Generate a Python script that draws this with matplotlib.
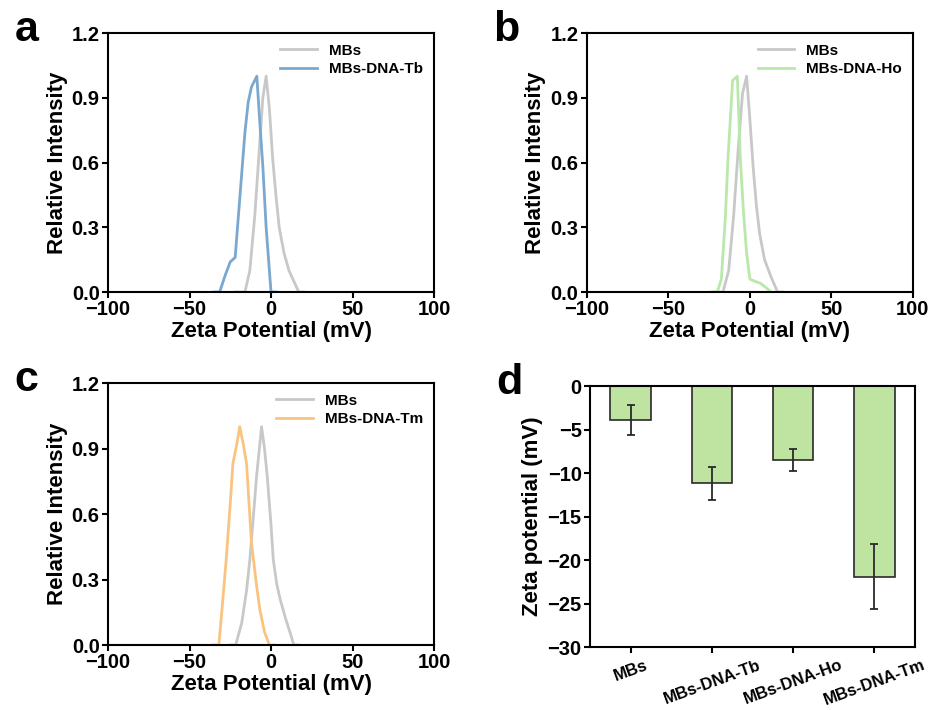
import matplotlib
matplotlib.use("Agg")
import matplotlib.pyplot as plt
import numpy as np

plt.rcParams['font.family'] = ['Liberation Sans', 'DejaVu Sans']
plt.rcParams['font.weight'] = 'bold'
plt.rcParams['axes.labelweight'] = 'bold'
plt.rcParams['axes.linewidth'] = 1.5

# --- data ---
mbs_a_x = [-22, -16, -13, -10, -7, -5, -3, -1, 1, 3, 5, 8, 11, 14, 17, 20]
mbs_a_y = [0, 0, 0.1, 0.35, 0.68, 0.9, 1.0, 0.85, 0.62, 0.45, 0.3, 0.18, 0.1, 0.05, 0, 0]

tb_x = [-35, -31.5, -28, -25, -22, -19, -16, -14, -12, -8.7, -7, -5, -3, -1, 0, 3]
tb_y = [0, 0, 0.08, 0.14, 0.16, 0.45, 0.74, 0.88, 0.95, 1.0, 0.8, 0.58, 0.3, 0.1, 0, 0]

mbs_b_x = [-22, -16.5, -13, -10, -7, -4.5, -2, 0, 2, 4, 6, 9, 13, 17, 20]
mbs_b_y = [0, 0, 0.1, 0.35, 0.68, 0.92, 1.0, 0.8, 0.58, 0.4, 0.27, 0.15, 0.07, 0, 0]

ho_x = [-24, -20, -17.5, -15, -13.5, -10.6, -7.7, -5.8, -4, -2, 0, 3, 6.5, 10, 13]
ho_y = [0, 0, 0.06, 0.35, 0.61, 0.98, 1.0, 0.61, 0.38, 0.18, 0.06, 0.05, 0.04, 0.02, 0]

mbs_c_x = [-25, -21.7, -18, -15, -13, -10.5, -8.9, -5.8, -4, -2.3, 0, 1.4, 3.5, 5.6, 9, 12, 14, 17]
mbs_c_y = [0, 0, 0.1, 0.25, 0.39, 0.62, 0.77, 1.0, 0.9, 0.77, 0.55, 0.39, 0.28, 0.21, 0.12, 0.05, 0, 0]

tm_x = [-36, -32, -30, -27.5, -25, -23.4, -21, -19.2, -17, -15, -12, -9, -6.8, -4, -1, 2]
tm_y = [0, 0, 0.17, 0.39, 0.65, 0.83, 0.92, 1.0, 0.92, 0.83, 0.47, 0.28, 0.16, 0.06, 0, 0]

bar_labels = ['MBs', 'MBs-DNA-Tb', 'MBs-DNA-Ho', 'MBs-DNA-Tm']
bar_values = [-3.9, -11.2, -8.5, -21.9]
bar_errors = [1.7, 1.95, 1.3, 3.7]

gray = '#c8c8c8'
blue = '#7aa8cf'
green = '#b9e8ab'
orange = '#f9c47f'

fig = plt.figure(figsize=(9.36, 7.10), dpi=100)


def panel_letter(rect, letter):
    fig.text(rect[0] - 0.1, rect[1] + rect[3] + 0.004, letter, fontsize=31,
             fontweight='bold', va='center')


def dist_panel(rect, x1, y1, x2, y2, label2, color2, letter):
    ax = fig.add_axes(rect)
    ax.plot(x1, y1, color=gray, lw=2, label='MBs')
    ax.plot(x2, y2, color=color2, lw=2, label=label2)
    ax.set_xlim(-100, 100)
    ax.set_ylim(0, 1.2)
    ax.set_xticks([-100, -50, 0, 50, 100])
    ax.set_yticks([0, 0.3, 0.6, 0.9, 1.2])
    ax.set_yticklabels(['0.0', '0.3', '0.6', '0.9', '1.2'])
    ax.tick_params(labelsize=14.5, width=1.5, length=4, direction='out', pad=2)
    ax.set_xlabel('Zeta Potential (mV)', fontsize=16, labelpad=1)
    ax.set_ylabel('Relative Intensity', fontsize=16, labelpad=3)
    ax.legend(loc='upper right', frameon=False, fontsize=11, handlelength=2.4,
              borderaxespad=0.3, labelspacing=0.3)
    panel_letter(rect, letter)
    return ax


dist_panel([0.1154, 0.5887, 0.3483, 0.3648], mbs_a_x, mbs_a_y, tb_x, tb_y,
           'MBs-DNA-Tb', blue, 'a')
dist_panel([0.627, 0.5887, 0.3483, 0.3648], mbs_b_x, mbs_b_y, ho_x, ho_y,
           'MBs-DNA-Ho', green, 'b')
dist_panel([0.1154, 0.0915, 0.3483, 0.369], mbs_c_x, mbs_c_y, tm_x, tm_y,
           'MBs-DNA-Tm', orange, 'c')

rect_d = [0.6303, 0.0887, 0.3473, 0.3676]
ax = fig.add_axes(rect_d)
pos = np.arange(len(bar_labels))
ax.bar(pos, bar_values, width=0.5, color='#bfe3a0', edgecolor='#2a2a2a', lw=1.2,
       yerr=bar_errors, error_kw=dict(ecolor='#2a2a2a', elinewidth=1.3, capsize=3, capthick=1.3))
ax.set_xlim(-0.5, 3.5)
ax.set_ylim(-30, 0)
ax.set_yticks([0, -5, -10, -15, -20, -25, -30])
ax.set_xticks(pos)
ax.set_xticklabels(bar_labels, rotation=20, fontsize=12)
ax.tick_params(axis='y', labelsize=14.5, width=1.5, length=4, pad=2)
ax.tick_params(axis='x', width=1.5, length=4)
ax.set_ylabel('Zeta potential (mV)', fontsize=16, labelpad=3)
panel_letter(rect_d, 'd')

fig.savefig('out.png', dpi=100)
